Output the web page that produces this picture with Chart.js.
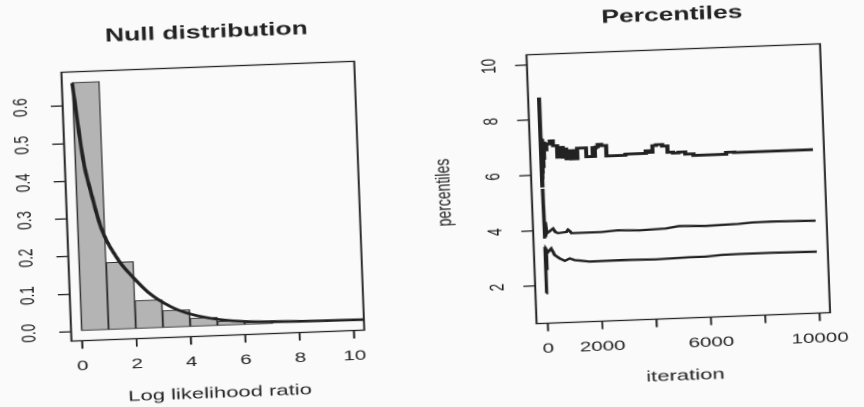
<!DOCTYPE html>
<html>
<head>
<meta charset="utf-8">
<script src="https://cdn.jsdelivr.net/npm/chart.js@4"></script>
<style>
  html, body { margin: 0; padding: 0; width: 864px; height: 407px; overflow: hidden; background: #fafafa; }
  /* the two plots sit on one sheet, printed a little wide and slightly askew */
  #sheet { position: absolute; left: 138px; top: 0; width: 588px; height: 407px; display: flex;
           transform-origin: 294px 203.5px; transform: rotate(-2.15deg) scaleX(1.47); }
  canvas { display: block; }
</style>
</head>
<body>
<div id="sheet">
  <canvas id="nullChart" width="294" height="407"></canvas>
  <canvas id="pctChart" width="294" height="407"></canvas>
</div>
<script>
// ---- null distribution: histogram of log likelihood ratios + fitted density
const llrBreaks = [0, 1, 2, 3, 4, 5, 6, 7, 8, 9, 10];
const llrDensity = [0.662, 0.180, 0.076, 0.047, 0.024, 0.013, 0.008, 0.004, 0.002, 0.001];
const curveX = [0, 0.3, 0.55, 0.85, 1.45, 1.95, 2.55, 3.3, 3.9, 4.75, 6, 7, 8, 9, 10.4];
const curveY = [0.66, 0.455, 0.365, 0.276, 0.186, 0.14, 0.094, 0.057, 0.038, 0.022, 0.010, 0.007, 0.005, 0.004, 0.003];
const llrTicks = [0, 2, 4, 6, 8, 10];
const llrTickLabels = ['0', '2', '4', '6', '8', '10'];
const densityTicks = [0, 0.1, 0.2, 0.3, 0.4, 0.5, 0.6];
const densityTickLabels = ['0.0', '0.1', '0.2', '0.3', '0.4', '0.5', '0.6'];

// ---- running percentiles by iteration (each value holds until the next iteration listed)
const upperIter = [1, 6, 12, 20, 30, 40, 55, 70, 90, 110, 140, 200, 330, 450, 600, 690, 800, 870, 930, 990,
  1110, 1210, 1260, 1330, 1660, 1900, 1940, 1980, 2020, 2090, 2220, 2400, 3100, 3850, 3980, 4100, 4230, 4460,
  4650, 4850, 5050, 5300, 5600, 6800, 7100, 9100, 10000];
const upperPct = [8.8, 5.6, 7.3, 5.9, 7.2, 6.1, 7.25, 6.3, 7.1, 6.6, 7.15, 6.9, 7.11, 7.22, 7.04, 6.62, 6.97, 6.61, 6.91, 6.55,
  6.84, 6.54, 6.84, 6.54, 6.92, 6.6, 6.92, 6.6, 6.9, 6.94, 7.03, 6.98, 6.60, 6.64, 6.73, 6.67, 6.91, 6.94,
  6.88, 6.65, 6.61, 6.64, 6.56, 6.50, 6.57, 6.55, 6.55];
const midIter = [1, 10, 20, 35, 60, 95, 336, 420, 519, 826, 885, 960, 1009, 2106, 2713, 3506, 4483, 4969, 5945, 7162, 7649, 8380, 10000];
const midPct = [5.5, 3.7, 5.0, 3.8, 4.3, 3.88, 4.05, 3.92, 3.88, 3.91, 3.99, 3.93, 3.86, 3.86, 3.90, 3.87, 3.90, 3.97, 3.94, 3.97, 4.00, 4.01, 3.98];
const lowIter = [1, 5, 12, 20, 35, 60, 117, 241, 362, 545, 728, 910, 1100, 1276, 1642, 2859, 4080, 5298, 5908, 6515, 7126, 8343, 10000];
const lowPct = [1.73, 3.4, 2.3, 3.2, 2.6, 3.3, 3.21, 3.33, 3.09, 2.96, 2.87, 2.95, 2.88, 2.86, 2.81, 2.82, 2.80, 2.83, 2.83, 2.87, 2.88, 2.88, 2.86];
const iterTicks = [0, 2000, 4000, 6000, 8000, 10000];
const iterTickLabels = ['0', '2000', '', '6000', '', '10000'];
const pctTicks = [2, 4, 6, 8, 10];
const pctTickLabels = ['2', '4', '6', '8', '10'];

const ink = '#222222';
const family = '"Liberation Sans", Arial, Helvetica, sans-serif';

Chart.defaults.font.family = family;
Chart.defaults.color = ink;

const toPoints = (xs, ys) => xs.map((x, i) => ({ x: x, y: ys[i] }));

// box, titles, axis labels and the y tick labels written along the axis
const rFrame = {
  id: 'rFrame',
  afterDraw(chart, args, opts) {
    const ctx = chart.ctx;
    const a = chart.chartArea;
    const ys = chart.scales.y;
    const midX = (a.left + a.right) / 2;
    ctx.save();
    ctx.strokeStyle = ink;
    ctx.lineWidth = 1.3;
    ctx.strokeRect(a.left, a.top, a.right - a.left, a.bottom - a.top);

    ctx.fillStyle = ink;
    ctx.textAlign = 'center';
    ctx.textBaseline = 'middle';
    ctx.font = 'bold 18px ' + family;
    ctx.fillText(opts.title, midX, 24.7);
    ctx.font = '15px ' + family;
    ctx.fillText(opts.xLabel, midX, 385.5);

    ctx.font = '13.5px ' + family;
    ys.ticks.forEach((t, i) => {
      ctx.save();
      ctx.translate(a.left - opts.tickGap, ys.getPixelForValue(t.value));
      ctx.rotate(-Math.PI / 2);
      ctx.fillText(opts.yTickLabels[i], 0, 0);
      ctx.restore();
    });

    if (opts.yLabel) {
      ctx.save();
      ctx.font = '14px ' + family;
      ctx.translate(a.left - opts.yLabelGap, (a.top + a.bottom) / 2);
      ctx.rotate(-Math.PI / 2);
      ctx.fillText(opts.yLabel, 0, 0);
      ctx.restore();
    }
    ctx.restore();
  }
};

function axisX(min, max, ticks, labels) {
  return {
    type: 'linear', min: min, max: max, offset: false,
    afterBuildTicks: s => { s.ticks = ticks.map(v => ({ value: v })); },
    afterFit: s => { s.height = 79.5; },
    grid: { drawOnChartArea: false, drawTicks: true, tickLength: 8, color: ink, lineWidth: 1.3, offset: false },
    border: { display: false },
    ticks: { autoSkip: false, maxRotation: 0, padding: 9, font: { size: 14 }, color: ink,
             callback: (v, i) => labels[i] }
  };
}

function axisY(min, max, ticks, width) {
  return {
    type: 'linear', min: min, max: max,
    afterBuildTicks: s => { s.ticks = ticks.map(v => ({ value: v })); },
    afterFit: s => { s.width = width; },
    grid: { drawOnChartArea: false, drawTicks: true, tickLength: 8, color: ink, lineWidth: 1.3 },
    border: { display: false },
    ticks: { display: false }
  };
}

const histPoints = llrDensity.map((d, i) => ({ x: (llrBreaks[i] + llrBreaks[i + 1]) / 2, y: d }));

new Chart(document.getElementById('nullChart'), {
  type: 'bar',
  data: {
    datasets: [
      {
        type: 'line',
        data: toPoints(curveX, curveY),
        borderColor: ink,
        borderWidth: 2.6,
        pointRadius: 0,
        cubicInterpolationMode: 'monotone',
        order: 0
      },
      {
        type: 'bar',
        data: histPoints,
        backgroundColor: '#b4b4b4',
        borderColor: '#2e2e2e',
        borderWidth: 1,
        borderSkipped: false,
        barPercentage: 1,
        categoryPercentage: 1,
        order: 1
      }
    ]
  },
  options: {
    responsive: false,
    devicePixelRatio: 2,
    animation: false,
    layout: { padding: { left: 0, right: 49.3, top: 58.5, bottom: 0 } },
    scales: {
      x: axisX(-0.38, 10.38, llrTicks, llrTickLabels),
      y: axisY(-0.025, 0.69, densityTicks, 45.4)
    },
    plugins: {
      legend: { display: false },
      tooltip: { enabled: false },
      rFrame: { title: 'Null distribution', xLabel: 'Log likelihood ratio', tickGap: 28, yTickLabels: densityTickLabels }
    }
  },
  plugins: [rFrame]
});

const pctLine = (xs, ys, width, stepped) => ({
  data: toPoints(xs, ys),
  borderColor: ink,
  borderWidth: width,
  pointRadius: 0,
  stepped: stepped
});

new Chart(document.getElementById('pctChart'), {
  type: 'line',
  data: {
    datasets: [
      pctLine(upperIter, upperPct, 2.8, 'after'),
      pctLine(midIter, midPct, 2.3, false),
      pctLine(lowIter, lowPct, 2.3, false)
    ]
  },
  options: {
    responsive: false,
    devicePixelRatio: 2,
    animation: false,
    layout: { padding: { left: 0, right: 26.2, top: 58.5, bottom: 0 } },
    scales: {
      x: axisX(-400, 10400, iterTicks, iterTickLabels),
      y: axisY(0.64, 10.36, pctTicks, 68)
    },
    plugins: {
      legend: { display: false },
      tooltip: { enabled: false },
      rFrame: { title: 'Percentiles', xLabel: 'iteration', yLabel: 'percentiles', tickGap: 25, yLabelGap: 59.6, yTickLabels: pctTickLabels }
    }
  },
  plugins: [rFrame]
});
</script>
</body>
</html>
